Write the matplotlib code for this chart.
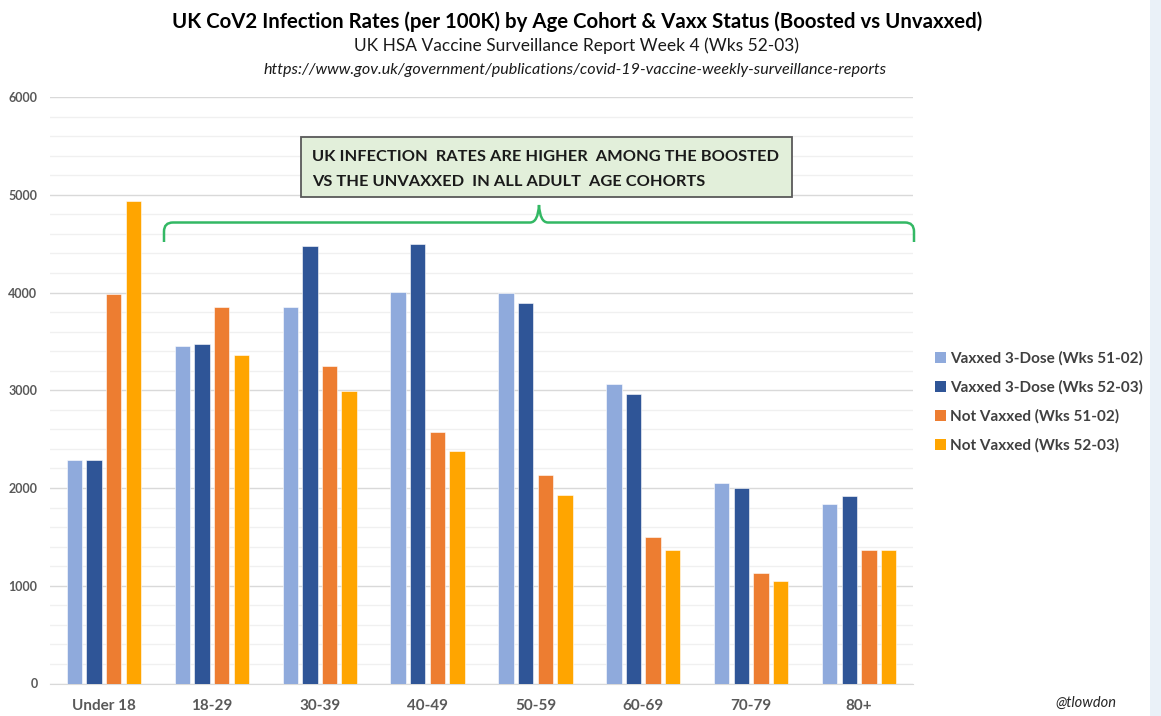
import matplotlib
matplotlib.use("Agg")
import matplotlib.pyplot as plt
import numpy as np
from matplotlib.patches import Rectangle, Patch, PathPatch
from matplotlib.path import Path

plt.rcParams['font.family'] = ['Lato', 'DejaVu Sans']

# data
age_groups = ['Under 18', '18-29', '30-39', '40-49', '50-59', '60-69', '70-79', '80+']
vaxxed_51_02 = [2290, 3455, 3850, 4010, 3990, 3065, 2055, 1840]
vaxxed_52_03 = [2285, 3470, 4480, 4495, 3895, 2965, 1995, 1920]
unvaxxed_51_02 = [3985, 3850, 3245, 2570, 2135, 1495, 1130, 1370]
unvaxxed_52_03 = [4935, 3360, 2995, 2380, 1925, 1365, 1050, 1365]

series_names = ['Vaxxed 3-Dose (Wks 51-02)', 'Vaxxed 3-Dose (Wks 52-03)',
                'Not Vaxxed (Wks 51-02)', 'Not Vaxxed (Wks 52-03)']
colors = ['#8faadc', '#2f5597', '#ed7d31', '#ffa500']

W, H = 1161, 716
fig = plt.figure(figsize=(W / 100, H / 100), dpi=100)
fig.patch.set_facecolor('white')


def fx(px):
    return px / W


def fy(py):
    return 1 - py / H


ax = fig.add_axes([fx(50), fy(683.5), fx(913) - fx(50), fy(97) - fy(683.5)])

x = np.arange(len(age_groups))
step = 0.182
width = 0.142
all_series = [vaxxed_51_02, vaxxed_52_03, unvaxxed_51_02, unvaxxed_52_03]
for i, vals in enumerate(all_series):
    ax.bar(x + (i - 1.5) * step, vals, width, color=colors[i], label=series_names[i],
           edgecolor='white', linewidth=0.4, zorder=3)

ax.set_xlim(-0.5, 7.5)
ax.set_ylim(0, 6000)
ax.set_yticks(range(0, 6001, 1000))
ax.set_yticks(range(0, 6001, 200), minor=True)
ax.grid(which='major', axis='y', color='#d9d9d9', linewidth=1.0, zorder=0)
ax.grid(which='minor', axis='y', color='#f0f0f0', linewidth=1.0, zorder=0)
ax.grid(False, axis='x', which='both')
for s in ['top', 'right', 'left']:
    ax.spines[s].set_visible(False)
ax.spines['bottom'].set_color('#d9d9d9')
ax.tick_params(axis='both', which='both', length=0)
ax.set_xticks(x)
ax.set_xticklabels(age_groups, fontsize=11, fontweight='bold', color='#595959')
ax.tick_params(axis='x', pad=11)
ax.tick_params(axis='y', pad=9, labelsize=9, labelcolor='#595959')
for t in ax.get_yticklabels():
    t.set_fontweight('bold')

# titles
fig.text(fx(577), fy(22), 'UK CoV2 Infection Rates (per 100K) by Age Cohort & Vaxx Status (Boosted vs Unvaxxed)',
         ha='center', va='center', fontsize=14.7, fontweight='bold', color='#000000')
fig.text(fx(577), fy(46), 'UK HSA Vaccine Surveillance Report Week 4 (Wks 52-03)',
         ha='center', va='center', fontsize=12.5, color='#1a1a1a')
fig.text(fx(575), fy(70), 'https://www.gov.uk/government/publications/covid-19-vaccine-weekly-surveillance-reports',
         ha='center', va='center', fontsize=11.6, style='italic', color='#1a1a1a')

# callout box
fig.add_artist(Rectangle((fx(301), fy(197)), fx(792) - fx(301), fy(137) - fy(197),
                         transform=fig.transFigure, facecolor='#e2efda', edgecolor='#595959',
                         linewidth=1.3, zorder=5))
fig.text(fx(312), fy(157), 'UK INFECTION  RATES ARE HIGHER  AMONG THE BOOSTED',
         ha='left', va='center', fontsize=11.8, fontweight='bold', color='#1a1a1a', zorder=6)
fig.text(fx(312), fy(182), 'VS THE UNVAXXED  IN ALL ADULT  AGE COHORTS',
         ha='left', va='center', fontsize=11.8, fontweight='bold', color='#1a1a1a', zorder=6)

# curly brace
x0, x1, xm = 164, 914, 539
yl, yb, yp = 222.5, 242, 205
r = 9
pts = [(x0, yb), (x0, yl + r), (x0, yl), (x0 + r, yl),
       (xm - 9, yl), (xm - 1, yl), (xm, yp), (xm + 1, yl), (xm + 9, yl),
       (x1 - r, yl), (x1, yl), (x1, yl + r), (x1, yb)]
codes = [Path.MOVETO, Path.LINETO, Path.CURVE3, Path.CURVE3,
         Path.LINETO, Path.CURVE3, Path.CURVE3, Path.CURVE3, Path.CURVE3,
         Path.LINETO, Path.CURVE3, Path.CURVE3, Path.LINETO]
brace = Path([(fx(a), fy(b)) for a, b in pts], codes)
fig.add_artist(PathPatch(brace, transform=fig.transFigure, facecolor='none',
                         edgecolor='#33b864', linewidth=1.8, zorder=5))

# legend
handles = [Patch(facecolor=c, edgecolor='none') for c in colors]
leg = fig.legend(handles, series_names, loc='upper left', bbox_to_anchor=(fx(935), fy(351.5)),
                 frameon=False, borderpad=0, borderaxespad=0,
                 handlelength=0.7, handleheight=0.7, handletextpad=0.3,
                 labelspacing=0.95, prop={'weight': 'bold', 'size': 11})
for t in leg.get_texts():
    t.set_color('#404040')

fig.text(fx(1086), fy(703), '@tlowdon', ha='center', va='center', fontsize=10.5,
         style='italic', color='#262626')

# light strip on the right edge
fig.add_artist(Rectangle((fx(1150), 0), fx(11), 1, transform=fig.transFigure,
                         facecolor='#eaf1f8', edgecolor='none'))

fig.savefig('out.png', dpi=100)
